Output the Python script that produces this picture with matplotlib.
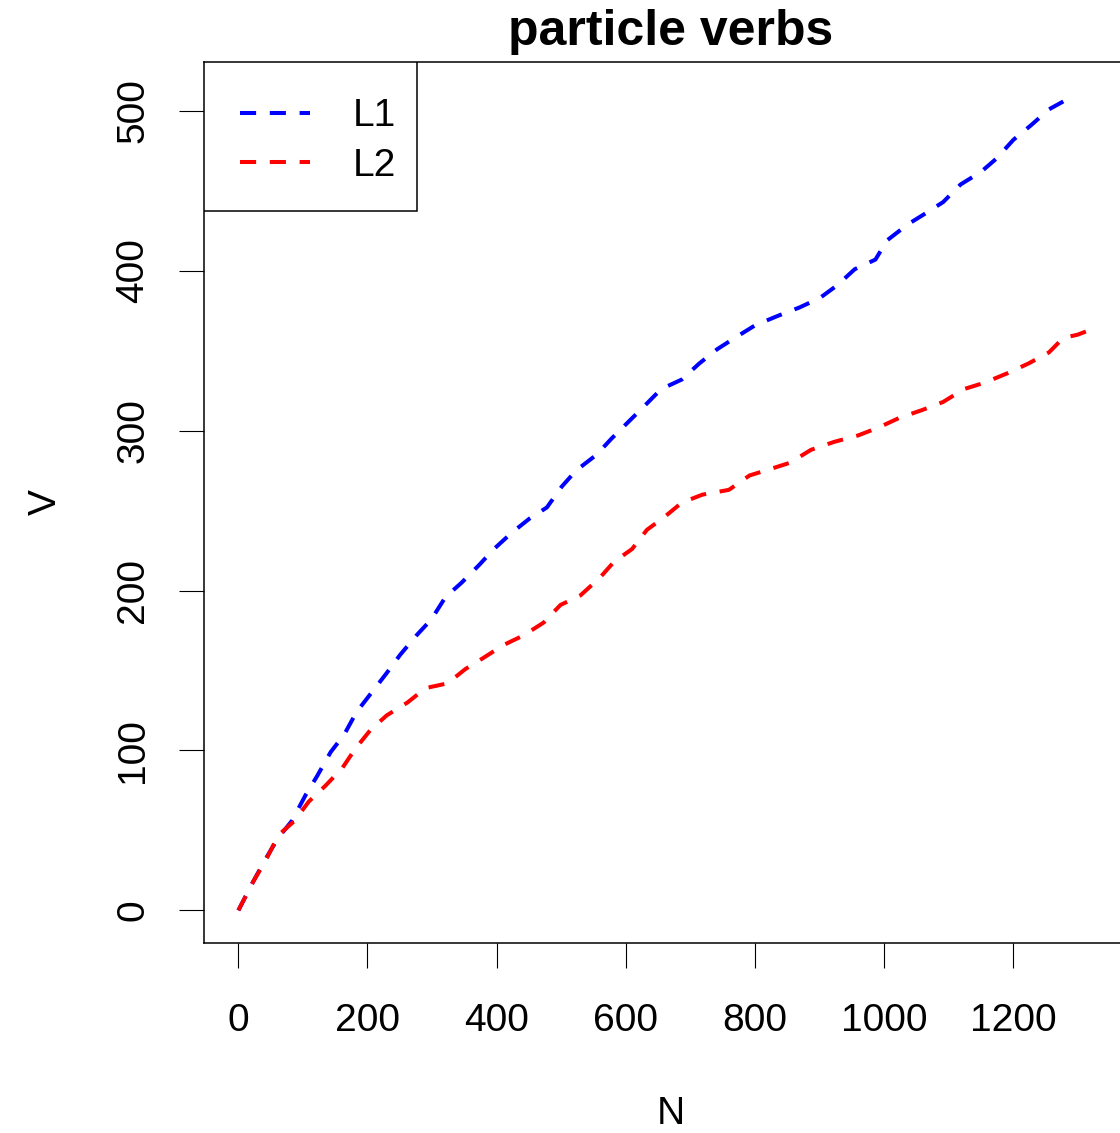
import matplotlib.pyplot as plt
from matplotlib.patches import Rectangle

# vocabulary growth: V (types) against N (tokens)
n_l1 = [0, 23, 42, 61, 83, 104, 122, 143, 164, 183, 206, 229, 251, 276, 299,
        321, 346, 373, 396, 423, 451, 478, 501, 523, 555, 578, 603, 628, 655,
        687, 714, 742, 769, 801, 837, 869, 901, 928, 955, 987, 1005, 1037,
        1065, 1092, 1119, 1151, 1174, 1201, 1228, 1256, 1292]
v_l1 = [0, 18, 32, 45, 56, 72, 84, 99, 110, 124, 136, 148, 160, 172, 182,
        196, 205, 216, 226, 236, 245, 252, 265, 275, 285, 295, 305, 315, 326,
        332, 342, 351, 358, 366, 372, 377, 383, 391, 401, 407, 419, 429,
        436, 443, 454, 462, 470, 482, 491, 501, 509]

n_l2 = [0, 23, 42, 62, 87, 109, 135, 161, 181, 205, 230, 262, 290, 324, 352,
        380, 411, 442, 473, 499, 530, 560, 582, 610, 633, 660, 687, 719, 760,
        792, 824, 855, 887, 923, 960, 992, 1024, 1060, 1092, 1124, 1156, 1192,
        1224, 1256, 1278, 1300, 1326]
v_l2 = [0, 18, 31, 47, 56, 68, 78, 89, 101, 113, 122, 130, 139, 142, 151,
        158, 166, 172, 180, 191, 197, 208, 218, 226, 238, 246, 255, 260, 263,
        272, 276, 280, 288, 293, 297, 302, 308, 313, 318, 326, 330, 336,
        342, 349, 358, 360, 364]

x_ticks = [0, 200, 400, 600, 800, 1000, 1200]
y_ticks = [0, 100, 200, 300, 400, 500]

plt.rcParams['font.family'] = ['Liberation Sans', 'DejaVu Sans']

fig = plt.figure(figsize=(11.2, 11.33), dpi=100)
ax = fig.add_axes([0.182, 0.1677, 0.833, 0.7776])

dash = (0, (4, 3.4))
ax.plot(n_l1, v_l1, color='blue', lw=2.9, linestyle=dash, label='L1')
ax.plot(n_l2, v_l2, color='red', lw=2.9, linestyle=dash, label='L2')

ax.set_xlim(-53.5, 1392)
ax.set_ylim(-20.4, 530.6)
ax.set_xticks(x_ticks)
ax.set_yticks(y_ticks)
ax.set_yticklabels([str(t) for t in y_ticks], rotation=90, va='center')
ax.tick_params(length=18, width=0.8, labelsize=28)
ax.tick_params(axis='x', pad=25)
ax.tick_params(axis='y', pad=20)
for s in ax.spines.values():
    s.set_linewidth(1.1)

ax.set_xlabel('N', fontsize=28, labelpad=41)
ax.set_ylabel('V', fontsize=28, labelpad=37)
ax.set_title('particle verbs', fontsize=36, fontweight='bold', pad=12)

# R-style legend box, tighter on the right than on the left
ax.add_patch(Rectangle((0, 1 - 0.1691), 0.2283, 0.1691, transform=ax.transAxes,
                       facecolor='white', edgecolor='black', lw=1.1, zorder=4))
leg = ax.legend(loc='upper left', fontsize=28, frameon=False,
                borderaxespad=0, handlelength=1.8, handletextpad=1.1,
                borderpad=0.93, labelspacing=0.35)
leg.set_zorder(5)

fig.savefig('out.png', dpi=100)
